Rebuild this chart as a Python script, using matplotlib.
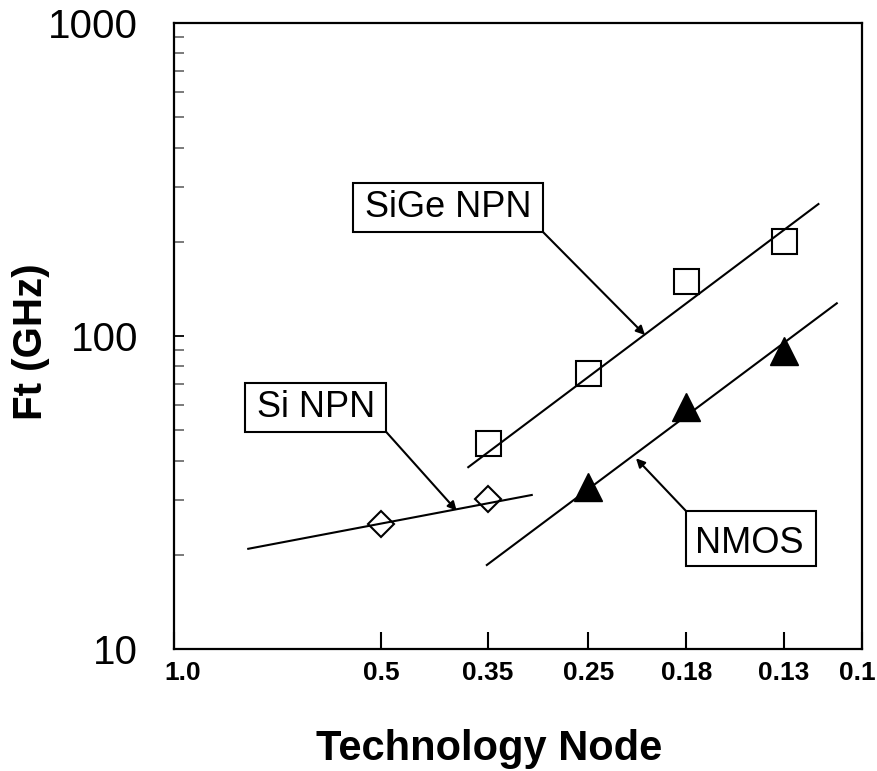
import matplotlib
matplotlib.use("Agg")
import matplotlib.pyplot as plt
from matplotlib.ticker import FixedLocator, NullLocator, LogLocator, NullFormatter
from matplotlib.patches import Rectangle
from matplotlib.transforms import ScaledTranslation

plt.rcParams['font.family'] = ['Liberation Sans', 'DejaVu Sans']

# ---- data ----
sige_nodes = [0.35, 0.25, 0.18, 0.13]
sige_ft = [45.5, 76, 150, 201]
nmos_nodes = [0.25, 0.18, 0.13]
nmos_ft = [32.9, 59.5, 89.5]
si_nodes = [0.5, 0.35]
si_ft = [25.1, 30.1]

sige_trend_x = [0.3735, 0.1157]
sige_trend_y = [38.1, 264]
nmos_trend_x = [0.351, 0.1088]
nmos_trend_y = [18.55, 127.2]
si_trend_x = [0.780, 0.302]
si_trend_y = [20.9, 31.05]

x_ticks = [1.0, 0.5, 0.35, 0.25, 0.18, 0.13, 0.1]
x_tick_labels = ['1.0', '0.5', '0.35', '0.25', '0.18', '0.13', '0.1']
y_ticks = [10, 100, 1000]
y_tick_labels = ['10', '100', '1000']

# ---- figure ----
W, H = 878, 771
fig = plt.figure(figsize=(W / 100, H / 100), dpi=100)
L, R, T, B = 174, 862, 23, 649
ax = fig.add_axes([L / W, 1 - B / H, (R - L) / W, (B - T) / H])

ax.set_xscale('log')
ax.set_yscale('log')
ax.set_xlim(1.0, 0.1)
ax.set_ylim(10, 1000)

lw = 1.5
ax.plot(sige_trend_x, sige_trend_y, color='black', lw=lw, zorder=2)
ax.plot(nmos_trend_x, nmos_trend_y, color='black', lw=lw, zorder=2)
ax.plot(si_trend_x, si_trend_y, color='black', lw=lw, zorder=2)

ax.plot(sige_nodes, sige_ft, linestyle='none', marker='s', markersize=18,
        markerfacecolor='none', markeredgecolor='black', markeredgewidth=1.5, zorder=3)
ax.plot(nmos_nodes, nmos_ft, linestyle='none', marker='^', markersize=19.5,
        markerfacecolor='black', markeredgecolor='black', markeredgewidth=1.0, zorder=3)
ax.plot(si_nodes, si_ft, linestyle='none', marker='D', markersize=13,
        markerfacecolor='none', markeredgecolor='black', markeredgewidth=1.5, zorder=3)

# ticks
ax.xaxis.set_major_locator(FixedLocator(x_ticks))
ax.xaxis.set_minor_locator(NullLocator())
ax.set_xticklabels(x_tick_labels, fontsize=19, fontweight='bold')
ax.tick_params(axis='x', which='major', direction='in', length=12, width=1.5, pad=9)
xlabs = ax.get_xticklabels()
xlabs[0].set_transform(xlabs[0].get_transform() + ScaledTranslation(9 / 100, 0, fig.dpi_scale_trans))
xlabs[-1].set_transform(xlabs[-1].get_transform() + ScaledTranslation(-5 / 100, 0, fig.dpi_scale_trans))

ax.yaxis.set_major_locator(FixedLocator(y_ticks))
ax.set_yticklabels(y_tick_labels, fontsize=29)
ax.yaxis.set_minor_locator(LogLocator(base=10, subs=[2, 3, 4, 5, 6, 7, 8, 9]))
ax.yaxis.set_minor_formatter(NullFormatter())
ax.tick_params(axis='y', which='major', direction='in', length=7, width=1.3, pad=26)
ax.tick_params(axis='y', which='minor', direction='in', length=7, width=1.3, color='#707070')

for s in ax.spines.values():
    s.set_linewidth(1.6)

# axis labels
fig.text(((L + (R - L) * 0.458)) / W, 11 / H, 'Technology Node', fontsize=30,
         fontweight='bold', ha='center', va='baseline')
fig.text(31 / W, 1 - 342 / H, 'Ft (GHz)', fontsize=29, fontweight='bold',
         rotation=90, ha='center', va='center')

# label boxes (axes fraction)
def px2ax(x, y):
    return ((x - L) / (R - L), (B - y) / (B - T))

def box(x0, y0, x1, y1, text, tx, tbase):
    a0 = px2ax(x0, y1)
    a1 = px2ax(x1, y0)
    ax.add_patch(Rectangle(a0, a1[0] - a0[0], a1[1] - a0[1], transform=ax.transAxes,
                           facecolor='white', edgecolor='black', lw=1.5, zorder=5))
    p = px2ax(tx, tbase)
    ax.text(p[0], p[1], text, transform=ax.transAxes, fontsize=26,
            ha='center', va='baseline', zorder=6)

box(353, 183, 543, 232, 'SiGe NPN', 448.3, 217.3)
box(245, 383, 386, 431.7, 'Si NPN', 315.8, 416.7)
box(686, 511, 816, 566, 'NMOS', 749, 553)

def arrow(tail, head):
    ax.annotate('', xy=px2ax(*head), xytext=px2ax(*tail),
                xycoords='axes fraction', textcoords='axes fraction',
                arrowprops=dict(arrowstyle='-|>', color='black', lw=1.5,
                                mutation_scale=13, shrinkA=0, shrinkB=0),
                zorder=4)

arrow((543, 232), (645, 335))
arrow((386, 431.7), (456.7, 510.7))
arrow((686, 511), (636, 458.3))

fig.savefig('out.png', dpi=100)
